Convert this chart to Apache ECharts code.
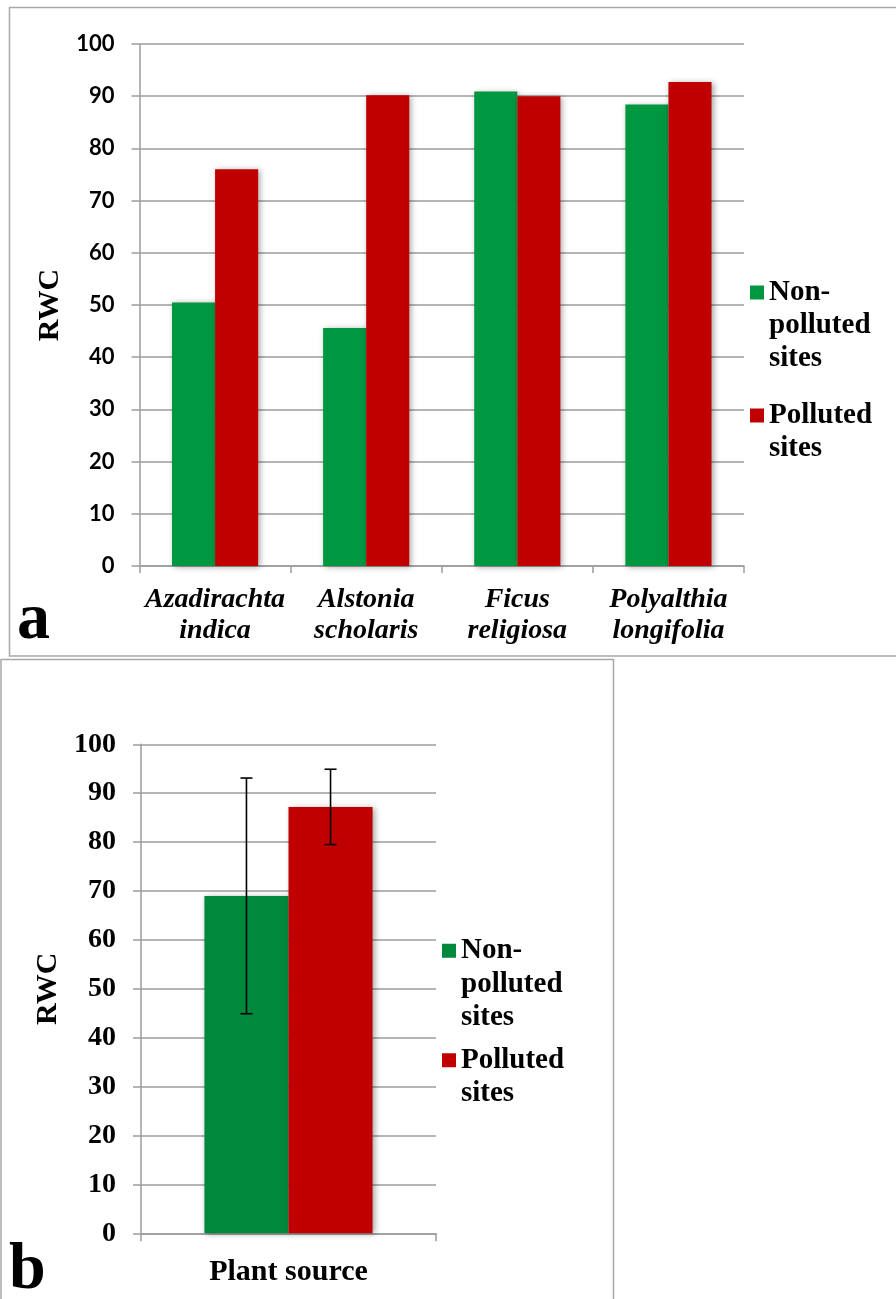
<!DOCTYPE html>
<html>
<head>
<meta charset="utf-8">
<script src="https://cdn.jsdelivr.net/npm/echarts@6/dist/echarts.min.js"></script>
<style>
  html, body { margin: 0; padding: 0; background: #ffffff; }
  #chart { width: 896px; height: 1299px; }
</style>
</head>
<body>
<div id="chart"></div>
<script>
// Panel a: relative water content per species
const speciesNames = ['Azadirachta indica', 'Alstonia scholaris', 'Ficus religiosa', 'Polyalthia longifolia'];
const speciesNonPolluted = [50.5, 45.6, 90.9, 88.4];
const speciesPolluted = [76.0, 90.2, 90.0, 92.7];

// Panel b: mean over all plants with error bars
const sourceNames = ['Plant source'];
const sourceNonPolluted = [69.0];
const sourcePolluted = [87.2];
const sourceNonPollutedErr = [24.1];
const sourcePollutedErr = [7.7];

const seriesNames = ['Non-polluted sites', 'Polluted sites'];
const legendLines = { 'Non-polluted sites': ['Non-', 'polluted', 'sites'], 'Polluted sites': ['Polluted', 'sites'] };

const SERIF = 'Liberation Serif';
const GRID_COLOR = '#9c9c9c';
const GREEN_A = '#009741';
const GREEN_B = '#00893D';
const RED = '#C00000';
const CAT_GAP = 0.43;

const barShadow = { shadowBlur: 6, shadowColor: 'rgba(0,0,0,0.35)', shadowOffsetX: 2, shadowOffsetY: 1 };

// The legend centres its marker on the text block, so blank lines are
// prepended to keep the marker level with the first line of the label.
function legendText(name) {
  const lines = legendLines[name];
  return new Array(lines.length - 1).fill('').concat(lines).join('\n');
}

function legendAt(left, top, name, color, lineH) {
  return {
    orient: 'vertical', left: left, top: top, padding: 0,
    itemWidth: 14, itemHeight: 14, icon: 'rect',
    formatter: legendText,
    textStyle: { fontFamily: SERIF, fontWeight: 'bold', fontSize: 29, color: '#000', lineHeight: lineH },
    data: [{ name: name, itemStyle: { color: color } }]
  };
}

function valueAxis(gridIndex, labelFont, labelSize, nameGap) {
  return {
    type: 'value', gridIndex: gridIndex, min: 0, max: 100, interval: 10,
    name: 'RWC', nameLocation: 'middle', nameRotate: 90, nameGap: nameGap,
    nameTextStyle: { fontFamily: SERIF, fontWeight: 'bold', fontSize: 30, color: '#000' },
    axisLine: { show: true, lineStyle: { color: GRID_COLOR, width: 1.5 } },
    axisTick: { show: true, length: 8, lineStyle: { color: GRID_COLOR, width: 1.5 } },
    splitLine: { show: true, lineStyle: { color: GRID_COLOR, width: 1.5 } },
    axisLabel: { margin: 25, fontFamily: labelFont, fontWeight: 'bold', fontSize: labelSize, color: '#000' }
  };
}

const errorData = [
  [0, sourceNonPolluted[0], sourceNonPollutedErr[0], 0],
  [0, sourcePolluted[0], sourcePollutedErr[0], 1]
];

const option = {
  animation: false,
  backgroundColor: '#ffffff',
  grid: [
    { left: 139.5, top: 44, width: 604.5, height: 522 },
    { left: 141, top: 744.3, width: 295, height: 489 }
  ],
  xAxis: [
    {
      type: 'category', gridIndex: 0, data: speciesNames,
      axisLine: { lineStyle: { color: GRID_COLOR, width: 1.5 } },
      axisTick: { show: true, length: 7, lineStyle: { color: GRID_COLOR, width: 1.5 } },
      axisLabel: {
        interval: 0, margin: 18, formatter: v => v.replace(' ', '\n'),
        fontFamily: SERIF, fontStyle: 'italic', fontWeight: 'bold', fontSize: 28, lineHeight: 31, color: '#000'
      }
    },
    {
      type: 'category', gridIndex: 1, data: sourceNames,
      axisLine: { lineStyle: { color: GRID_COLOR, width: 1.5 } },
      axisTick: { show: true, length: 8, lineStyle: { color: GRID_COLOR, width: 1.5 } },
      axisLabel: { interval: 0, margin: 24, fontFamily: SERIF, fontWeight: 'bold', fontSize: 30, color: '#000' }
    }
  ],
  yAxis: [
    valueAxis(0, 'Lato', 22, 71),
    valueAxis(1, SERIF, 28, 78)
  ],
  legend: [
    legendAt(750, 210, seriesNames[0], GREEN_A, 33),
    legendAt(750, 366, seriesNames[1], RED, 33),
    legendAt(442, 867, seriesNames[0], GREEN_B, 33.5),
    legendAt(442, 1010, seriesNames[1], RED, 33.5)
  ],
  series: [
    {
      type: 'bar', name: seriesNames[0], xAxisIndex: 0, yAxisIndex: 0, data: speciesNonPolluted,
      barGap: '0%', barCategoryGap: (CAT_GAP * 100) + '%',
      itemStyle: Object.assign({ color: GREEN_A }, barShadow)
    },
    {
      type: 'bar', name: seriesNames[1], xAxisIndex: 0, yAxisIndex: 0, data: speciesPolluted,
      barGap: '0%', barCategoryGap: (CAT_GAP * 100) + '%',
      itemStyle: Object.assign({ color: RED }, barShadow)
    },
    {
      type: 'bar', name: seriesNames[0], xAxisIndex: 1, yAxisIndex: 1, data: sourceNonPolluted,
      barGap: '0%', barCategoryGap: (CAT_GAP * 100) + '%',
      itemStyle: Object.assign({ color: GREEN_B }, barShadow)
    },
    {
      type: 'bar', name: seriesNames[1], xAxisIndex: 1, yAxisIndex: 1, data: sourcePolluted,
      barGap: '0%', barCategoryGap: (CAT_GAP * 100) + '%',
      itemStyle: Object.assign({ color: RED }, barShadow)
    },
    {
      // error bars centred on each bar of panel b
      type: 'custom', xAxisIndex: 1, yAxisIndex: 1, data: errorData, z: 10,
      renderItem: function (params, api) {
        const x = api.value(0), mean = api.value(1), err = api.value(2), grp = api.value(3);
        const band = api.size([1, 0])[0];
        const barW = band * (1 - CAT_GAP) / 2;
        const cx = api.coord([x, mean])[0] + (grp === 0 ? -barW / 2 : barW / 2);
        const yTop = api.coord([x, mean + err])[1];
        const yBot = api.coord([x, mean - err])[1];
        const cap = 6;
        const st = { stroke: '#000', lineWidth: 1.6 };
        return {
          type: 'group',
          children: [
            { type: 'line', shape: { x1: cx, y1: yTop, x2: cx, y2: yBot }, style: st },
            { type: 'line', shape: { x1: cx - cap, y1: yTop, x2: cx + cap, y2: yTop }, style: st },
            { type: 'line', shape: { x1: cx - cap, y1: yBot, x2: cx + cap, y2: yBot }, style: st }
          ]
        };
      }
    }
  ],
  graphic: [
    // panel frames
    { type: 'polyline', shape: { points: [[897, 7.5], [9.5, 7.5], [9.5, 656], [897, 656]] },
      style: { stroke: '#a8a8a8', lineWidth: 1.5, fill: null }, silent: true },
    { type: 'polyline', shape: { points: [[1, 1300], [1, 659.5], [613.5, 659.5], [613.5, 1300]] },
      style: { stroke: '#a8a8a8', lineWidth: 1.5, fill: null }, silent: true },
    // panel letters
    { type: 'text', left: 17, top: 588, silent: true,
      style: { text: 'a', font: 'bold 66px "Liberation Serif"', fill: '#000' } },
    { type: 'text', left: 9, top: 1238, silent: true,
      style: { text: 'b', font: 'bold 66px "Liberation Serif"', fill: '#000' } }
  ]
};

const chart = echarts.init(document.getElementById('chart'), null, { renderer: 'canvas' });
chart.setOption(option);
</script>
</body>
</html>
